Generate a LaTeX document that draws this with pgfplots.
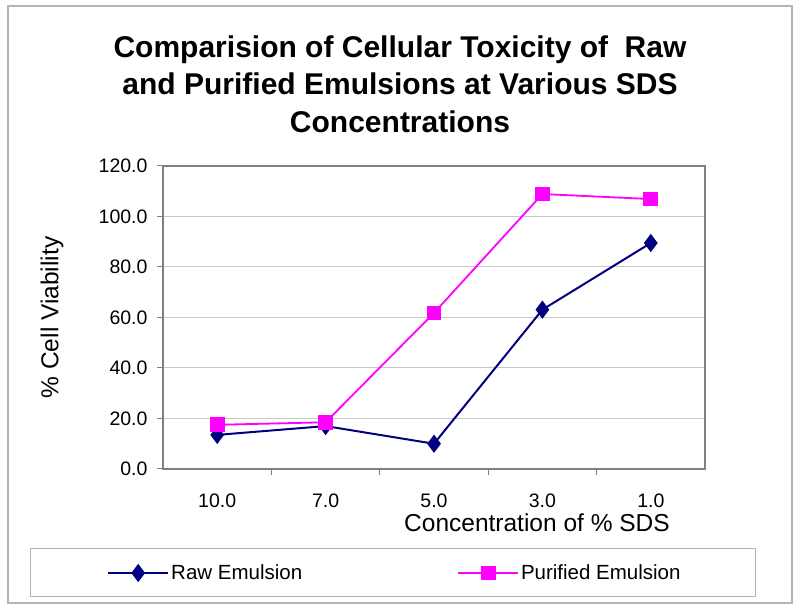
\documentclass[border=0pt]{standalone}
\usepackage{fontspec}
\setmainfont{Liberation Sans}
\usepackage{pgfplots}
\pgfplotsset{compat=1.18}
\definecolor{rawc}{HTML}{000080}
\definecolor{purc}{HTML}{FF00FF}
\definecolor{axgray}{HTML}{808080}
\definecolor{gridgray}{HTML}{C8C8C8}
\definecolor{boxgray}{HTML}{B4B4B4}
\begin{document}
\begin{tikzpicture}
\path (0pt,0pt) rectangle (800pt,612pt);
\draw[boxgray, line width=1.5pt] (8pt,9pt) rectangle (792pt,606pt);
\node[align=center, font=\fontsize{30}{37.5}\selectfont\bfseries] at (400pt,528pt)
 {Comparision of Cellular Toxicity of \ Raw\\ and Purified Emulsions at Various SDS\\ Concentrations};
\draw[boxgray, line width=1pt] (30pt,15pt) rectangle (755pt,63pt);
\begin{axis}[
  at={(163pt,143pt)}, anchor=south west,
  scale only axis, width=542pt, height=303pt,
  xmin=-0.5, xmax=4.5, ymin=0, ymax=120,
  xtick={0,1,2,3,4},
  xticklabels={10.0,7.0,5.0,3.0,1.0},
  minor xtick={0.5,1.5,2.5,3.5},
  major x tick style={draw=none},
  ytick={0,20,...,120},
  tick pos=left, tick align=outside,
  major tick length=6pt, minor tick length=6pt,
  every tick/.style={axgray, line width=1pt},
  axis line style={axgray, line width=1.5pt},
  ymajorgrids, major grid style={gridgray, line width=1pt},
  /pgf/number format/assume math mode=true,
  yticklabel={\pgfmathprintnumber[fixed,fixed zerofill,precision=1]{\tick}},
  ticklabel style={font=\fontsize{19.5}{21}\selectfont},
  xticklabel style={yshift=-15pt},
  yticklabel style={xshift=-6pt},
  xlabel={Concentration of \% SDS},
  ylabel={\% Cell Viability},
  label style={font=\fontsize{24.5}{27}\selectfont},
  xlabel style={at={(axis description cs:0.690,-0.178)}, anchor=center},
  ylabel style={at={(axis description cs:-0.2048,0.5)}, anchor=center},
  legend columns=2,
  legend cell align=left,
  legend image code/.code={\draw[mark repeat=2,mark phase=2,#1] plot coordinates {(0pt,0pt)(30pt,0pt)(60pt,0pt)};},
  legend style={draw=none, fill=none, at={(axis description cs:-0.1033,-0.3432)}, anchor=west,
    inner sep=0pt, column sep=0pt, font=\fontsize{20.5}{23}\selectfont,
    nodes={inner sep=2pt}},
]
\addplot[rawc, line width=2pt, mark=diamond*, mark size=7.5pt, mark options={solid, fill=rawc}]
 coordinates {(0,13.5) (1,17.0) (2,10.0) (3,63.1) (4,89.5)};
\addlegendentry{\makebox[284pt][l]{Raw Emulsion}}
\addplot[purc, line width=1.8pt, mark=square*, mark size=6.5pt, mark options={solid, fill=purc}]
 coordinates {(0,17.5) (1,18.5) (2,61.8) (3,108.9) (4,106.9)};
\addlegendentry{Purified Emulsion}
\end{axis}
\end{tikzpicture}
\end{document}
